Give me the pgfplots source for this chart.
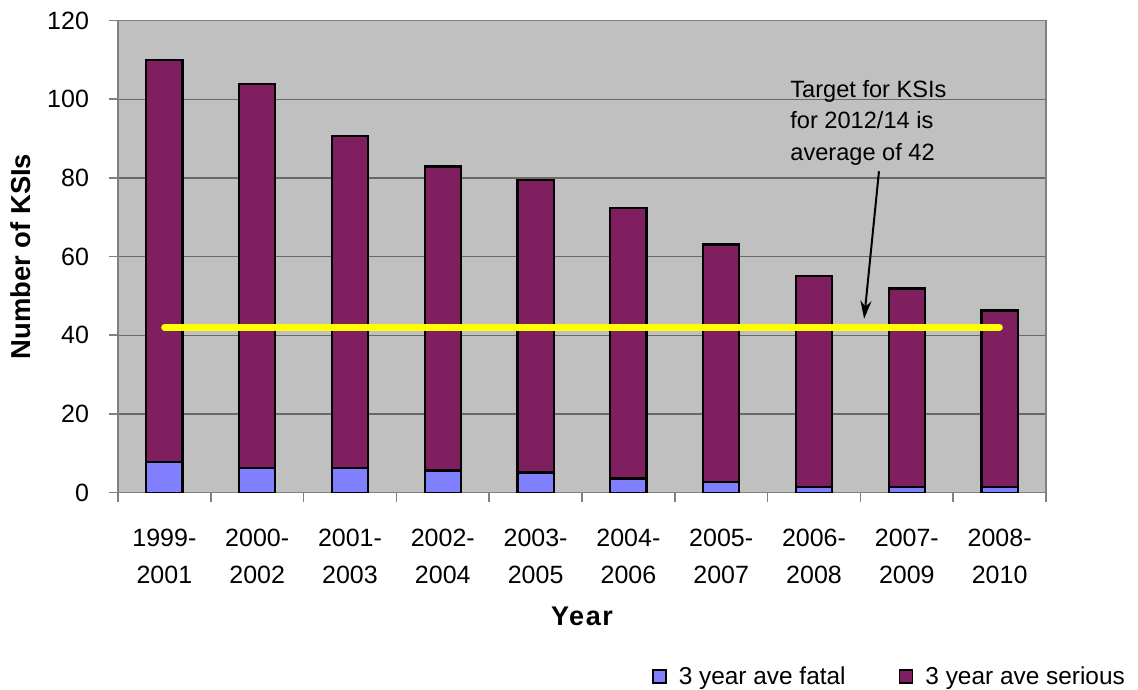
\documentclass[border=0pt]{standalone}
\usepackage{fontspec}
\setmainfont{Liberation Sans}
\usepackage{pgfplots}
\pgfplotsset{compat=1.18}
\usetikzlibrary{arrows.meta}

\definecolor{plotbg}{RGB}{192,192,192}
\definecolor{gridgray}{RGB}{105,105,105}
\definecolor{axisgray}{RGB}{128,128,128}
\definecolor{fatalblue}{RGB}{128,128,255}
\definecolor{seriousplum}{RGB}{128,31,96}
\definecolor{targetyellow}{RGB}{255,255,0}

% 3-year rolling averages of killed or seriously injured casualties
\pgfplotstableread{
x fatal serious
0 7.7 102.3
1 6.2 97.6
2 6.2 84.4
3 5.6 77.3
4 5.1 74.3
5 3.6 68.7
6 2.6 60.5
7 1.5 53.5
8 1.5 50.4
9 1.5 44.8
}\ksidata

\pgfplotsset{
  squarelegend/.style={
    legend image code/.code={
      \draw[##1, draw=black, line width=0.8pt] (0pt,-3.3pt) rectangle (6.6pt,3.3pt);
    }
  }
}

\begin{document}
\begin{tikzpicture}
\useasboundingbox (-59pt,-98.5pt) rectangle (510pt,246.3pt);
\begin{axis}[
  name=ax,
  at={(0,0)}, anchor=south west,
  scale only axis,
  width=464pt, height=236pt,
  xmin=-0.5, xmax=9.5, ymin=0, ymax=120,
  enlargelimits=false,
  ybar stacked, bar width=0.39,
  reverse stacked plots=false,
  axis background/.style={fill=plotbg},
  axis line style={axisgray, line width=0.8pt},
  ymajorgrids, grid style={gridgray, line width=0.65pt},
  ytick={0,20,...,120},
  xtick={0,...,9},
  xticklabels={1999-\\2001,2000-\\2002,2001-\\2003,2002-\\2004,2003-\\2005,
               2004-\\2006,2005-\\2007,2006-\\2008,2007-\\2009,2008-\\2010},
  minor xtick={-0.5,0.5,...,9.5},
  tick align=outside, tick pos=left,
  major tick length=4.5pt, minor tick length=4.5pt,
  major x tick style={draw=none},
  minor x tick style={axisgray, line width=0.8pt},
  major y tick style={axisgray, line width=0.8pt},
  /pgf/number format/assume math mode=true,
  tick label style={font=\fontsize{12.5}{18.5}\selectfont},
  xticklabel style={align=center, yshift=-10pt},
  yticklabel style={xshift=-6.5pt},
  xlabel={Year},
  ylabel={Number of KSIs},
  xlabel style={at={(axis description cs:0.5,-0.2627)}, anchor=center,
    font=\fontsize{13.5}{16}\selectfont\bfseries\addfontfeature{LetterSpace=6}},
  ylabel style={at={(axis description cs:-0.1045,0.5)}, anchor=center, rotate=0,
    font=\fontsize{13.7}{16}\selectfont\bfseries},
  legend columns=2,
  legend cell align=left,
  legend style={at={(axis description cs:0.575,-0.39)}, anchor=west,
    draw=none, fill=none, inner sep=0pt,
    font=\fontsize{12.2}{14}\selectfont,
    nodes={inner sep=0pt},
    column sep=6pt,
    /tikz/every even column/.append style={column sep=26.5pt}},
]
\addplot[fill=fatalblue, draw=black, line width=1.1pt, squarelegend]
  table[x=x, y=fatal] {\ksidata};
\addlegendentry{3 year ave fatal}
\addplot[fill=seriousplum, draw=black, line width=1.1pt, squarelegend]
  table[x=x, y=serious] {\ksidata};
\addlegendentry{3 year ave serious}

% target level for 2012/14
\addplot[stack plots=false, sharp plot, no markers, targetyellow,
  line width=3.2pt, line cap=round, forget plot]
  coordinates {(0,42) (9,42)};

\node[anchor=north west, align=left, inner sep=0pt,
  font=\fontsize{11.8}{15.8}\selectfont]
  at (axis cs:6.741,105.0) {Target for KSIs\\for 2012/14 is\\average of 42};
\draw[-{Stealth[length=9pt,width=5.5pt]}, line width=1pt, black]
  (axis cs:7.70,81.7) -- (axis cs:7.54,44.2);
\end{axis}
\end{tikzpicture}
\end{document}
